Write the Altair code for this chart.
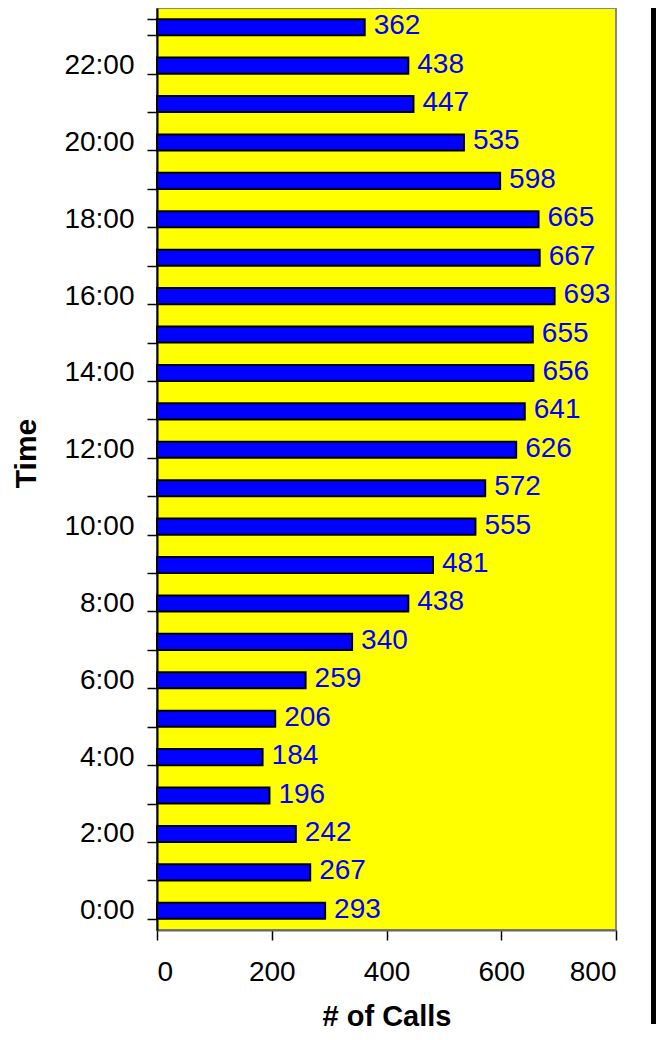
import altair as alt
import pandas as pd

hours = [f"{h}:00" for h in range(24)]
calls = [293, 267, 242, 196, 184, 206, 259, 340, 438, 481, 555, 572,
         626, 641, 656, 655, 693, 667, 665, 598, 535, 447, 438, 362]
x_ticks = [0, 200, 400, 600, 800]

df = pd.DataFrame({"Time": hours, "Calls": calls})
order = hours[::-1]

FONT = "Liberation Sans"

y_enc = alt.Y("Time:N", sort=order,
              scale=alt.Scale(paddingInner=0.583, paddingOuter=0.2915),
              axis=alt.Axis(title="Time", labelExpr="parseInt(split(datum.value, ':')[0]) % 2 == 0 ? datum.value : ''",
                            tickBand="extent", tickSize=10, tickColor="#000000", tickWidth=1.5,
                            labelFontSize=28, labelFont=FONT, labelColor="#000000", labelPadding=13,
                            domainColor="#000000", domainWidth=2,
                            titleFont=FONT, titleFontSize=30, titleFontWeight="bold", titleColor="#000000",
                            titleX=-116, titleY=445, titleAngle=-90, titleBaseline="bottom"))
x_enc = alt.X("Calls:Q", scale=alt.Scale(domain=[0, 800], nice=False),
              axis=alt.Axis(title="# of Calls", values=x_ticks, grid=False, tickSize=10,
                            tickColor="#000000", tickWidth=1.5,
                            labelFontSize=28, labelFont=FONT, labelColor="#000000", labelPadding=18,
                            domainColor="#666666", domainWidth=2,
                            titleFont=FONT, titleFontSize=29, titleFontWeight="bold", titleColor="#000000",
                            titleY=101, titleBaseline="bottom"))

bars = alt.Chart(df).mark_bar(color="#0000FF", stroke="#000000", strokeWidth=2).encode(x=x_enc, y=y_enc)
labels = alt.Chart(df).mark_text(align="left", baseline="middle", dx=9, dy=-1, fontSize=28,
                                 font=FONT, color="#0000FF").encode(
    x="Calls:Q", y=alt.Y("Time:N", sort=order), text="Calls:Q")
border = alt.Chart(df.head(1)).mark_rule(color="#000000", strokeWidth=5).encode(
    x=alt.value(496.5), y=alt.value(-8), y2=alt.value(1016))

chart = alt.layer(bars, labels, border).properties(
    width=459, height=922,
    padding={"left": 149, "top": 0, "right": 40, "bottom": 102},
    autosize=alt.AutoSizeParams(type="none"),
    background="#FFFFFF",
).configure_view(fill="#FFFF00", stroke="#888888", strokeWidth=2)

chart.save("out.html", embed_options={"renderer": "svg", "actions": False})
